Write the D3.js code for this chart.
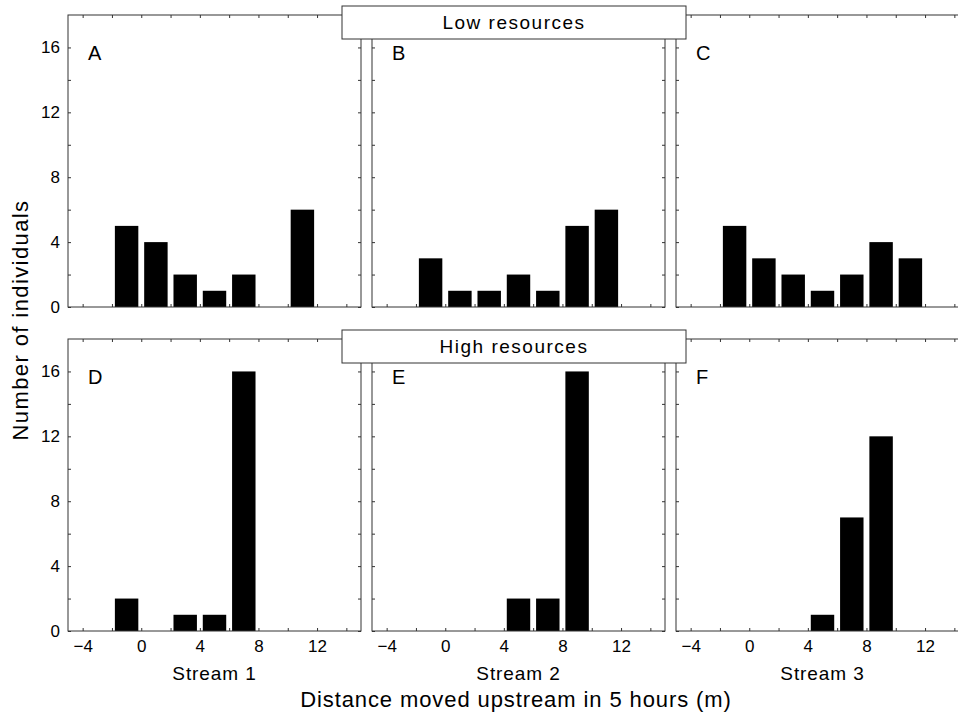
<!DOCTYPE html>
<html>
<head>
<meta charset="utf-8">
<script src="https://cdn.jsdelivr.net/npm/d3@7"></script>
<style>
  body { margin: 0; background: #fff; }
  text { font-family: "Liberation Sans", Arial, Helvetica, sans-serif; fill: #000; }
</style>
</head>
<body>
<div id="chart"></div>
<script>
// bin centres (m) and counts
var binCenters = [-1, 1, 3, 5, 7, 9, 11];
var lowStream1 = [5, 4, 2, 1, 2, 0, 6];
var lowStream2 = [3, 1, 1, 2, 1, 5, 6];
var lowStream3 = [5, 3, 2, 1, 2, 4, 3];
var highStream1 = [2, 0, 1, 1, 16, 0, 0];
var highStream2 = [0, 0, 0, 2, 2, 16, 0];
var highStream3 = [0, 0, 0, 1, 7, 12, 0];

var rowLabels = ["Low resources", "High resources"];
var streamLabels = ["Stream 1", "Stream 2", "Stream 3"];
var panelLetters = [["A", "B", "C"], ["D", "E", "F"]];
var counts = [[lowStream1, lowStream2, lowStream3], [highStream1, highStream2, highStream3]];

var xTickValues = [-4, -2, 0, 2, 4, 6, 8, 10, 12, 14];
var yTickValues = [0, 2, 4, 6, 8, 10, 12, 14, 16];

var svgWidth = 958, svgHeight = 717;
var panelW = 293, panelH = 292;
var panelLeft = [68, 372, 676];
var panelTop = [15, 339];

var svg = d3.select("#chart")
    .append("svg")
    .attr("width", svgWidth)
    .attr("height", svgHeight);

var x = d3.scaleLinear().domain([-5, 15]).range([0, panelW]);
var y = d3.scaleLinear().domain([0, 18]).range([panelH, 0]);
var halfBar = 0.8;

counts.forEach(function(row, r) {
    row.forEach(function(values, c) {
        var g = svg.append("g")
            .attr("transform", `translate(${panelLeft[c]}, ${panelTop[r]})`);

        var data = binCenters.map(function(b, i) { return { bin: b, n: values[i] }; })
            .filter(function(d) { return d.n > 0; });

        g.selectAll("rect.bar")
            .data(data)
            .enter()
            .append("rect")
            .attr("class", "bar")
            .attr("x", d => x(d.bin - halfBar))
            .attr("width", d => x(d.bin + halfBar) - x(d.bin - halfBar))
            .attr("y", d => y(d.n))
            .attr("height", d => y(0) - y(d.n))
            .attr("fill", "#000");

        // ticks point inward on all four sides
        var labelY = c === 0;
        var labelX = r === 1;

        var left = g.append("g")
            .call(d3.axisLeft(y).tickValues(yTickValues).tickSize(-3).tickPadding(8)
                .tickFormat(d => (labelY && d % 4 === 0) ? d : ""));
        var right = g.append("g")
            .attr("transform", `translate(${panelW}, 0)`)
            .call(d3.axisRight(y).tickValues(yTickValues).tickSize(-3).tickFormat(""));
        var bottom = g.append("g")
            .attr("transform", `translate(0, ${panelH})`)
            .call(d3.axisBottom(x).tickValues(xTickValues).tickSize(-3).tickPadding(9)
                .tickFormat(d => (labelX && d % 4 === 0) ? d3.format("")(d) : ""));
        var top = g.append("g")
            .call(d3.axisTop(x).tickValues(xTickValues).tickSize(-3).tickFormat(""));

        [left, right, bottom, top].forEach(function(ax) {
            ax.select(".domain").remove();
            ax.selectAll("line").attr("stroke", "#333");
            ax.selectAll("text").style("font-size", "17px")
                .style("font-family", "'Liberation Sans', Arial, sans-serif");
        });

        g.append("rect")
            .attr("width", panelW)
            .attr("height", panelH)
            .attr("fill", "none")
            .attr("stroke", "#333")
            .attr("stroke-width", 1);

        g.append("text")
            .attr("x", 20)
            .attr("y", 45)
            .style("font-size", "20px")
            .text(panelLetters[r][c]);

        if (r === 1) {
            g.append("text")
                .attr("x", panelW / 2)
                .attr("y", panelH + 49)
                .attr("text-anchor", "middle")
                .style("font-size", "19px")
                .style("letter-spacing", "0.9px")
                .text(streamLabels[c]);
        }
    });

    // strip label box over the middle panel
    var box = svg.append("g")
        .attr("transform", `translate(${panelLeft[1] - 30}, ${panelTop[r] - 9})`);
    box.append("rect")
        .attr("width", 344)
        .attr("height", 33)
        .attr("fill", "#fff")
        .attr("stroke", "#333");
    box.append("text")
        .attr("x", 172)
        .attr("y", 23)
        .attr("text-anchor", "middle")
        .style("font-size", "19px")
        .style("letter-spacing", "1.5px")
        .text(rowLabels[r]);
});

// axis titles
svg.append("text")
    .attr("transform", "rotate(-90)")
    .attr("x", -320)
    .attr("y", 28)
    .attr("text-anchor", "middle")
    .style("font-size", "22px")
    .style("letter-spacing", "1.4px")
    .text("Number of individuals");

svg.append("text")
    .attr("x", 516)
    .attr("y", 707)
    .attr("text-anchor", "middle")
    .style("font-size", "22px")
    .style("letter-spacing", "0.9px")
    .text("Distance moved upstream in 5 hours (m)");
</script>
</body>
</html>
